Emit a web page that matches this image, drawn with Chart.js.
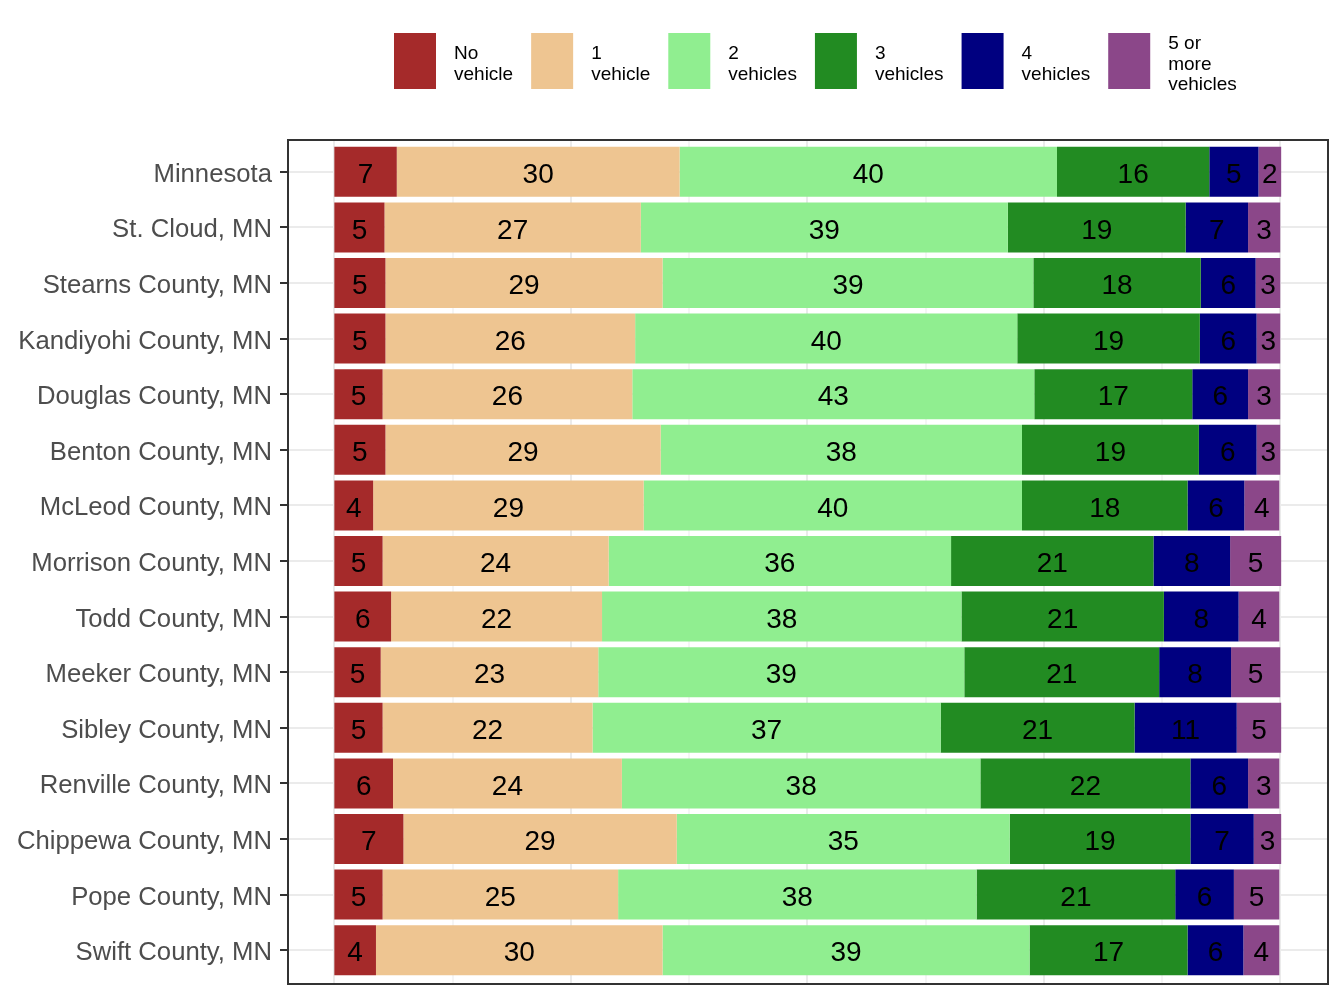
<!DOCTYPE html>
<html>
<head>
<meta charset="utf-8">
<script src="https://cdn.jsdelivr.net/npm/chart.js"></script>
<style>
  body { margin: 0; background: #fff; }
  #wrap { width: 1344px; height: 1008px; }
</style>
</head>
<body>
<div id="wrap"><canvas id="vehChart" width="1344" height="1008"></canvas></div>
<script>
const categories = ['Minnesota', 'St. Cloud, MN', 'Stearns County, MN', 'Kandiyohi County, MN',
  'Douglas County, MN', 'Benton County, MN', 'McLeod County, MN', 'Morrison County, MN',
  'Todd County, MN', 'Meeker County, MN', 'Sibley County, MN', 'Renville County, MN',
  'Chippewa County, MN', 'Pope County, MN', 'Swift County, MN'];

// percent of households
const noVehicle     = [6.6, 5.3, 5.4, 5.4, 5.1, 5.4, 4.1, 5.1, 6.0, 4.9, 5.1, 6.2, 7.3, 5.1, 4.4];
const oneVehicle    = [29.9, 27.1, 29.3, 26.4, 26.4, 29.1, 28.6, 23.9, 22.3, 23.0, 22.2, 24.2, 28.9, 24.9, 30.3];
const twoVehicles   = [39.9, 38.8, 39.2, 40.4, 42.5, 38.2, 40.0, 36.2, 38.0, 38.7, 36.8, 37.9, 35.2, 37.9, 38.8];
const threeVehicles = [16.1, 18.8, 17.7, 19.3, 16.7, 18.7, 17.5, 21.4, 21.4, 20.6, 20.5, 22.2, 19.1, 21.0, 16.7];
const fourVehicles  = [5.2, 6.6, 5.8, 6.0, 5.9, 6.1, 6.0, 8.1, 7.9, 7.6, 10.8, 6.1, 6.7, 6.2, 5.9];
const fivePlus      = [2.4, 3.4, 2.6, 2.5, 3.4, 2.5, 3.7, 5.4, 4.3, 5.2, 4.7, 3.3, 2.9, 4.8, 3.8];

const seriesLabels = [['No', 'vehicle'], ['1', 'vehicle'], ['2', 'vehicles'], ['3', 'vehicles'],
  ['4', 'vehicles'], ['5 or', 'more', 'vehicles']];
const seriesColors = ['#A52A2A', '#EEC591', '#90EE90', '#228B22', '#000080', '#8B4789'];
const xGridValues = [0, 12.5, 25, 37.5, 50, 62.5, 75, 87.5, 100];

const FONT = '"Liberation Sans", Arial, sans-serif';

const frameAndGrid = {
  id: 'frameAndGrid',
  beforeDatasetsDraw(chart) {
    const { ctx, chartArea, scales } = chart;
    ctx.save();
    ctx.strokeStyle = '#EBEBEB';
    xGridValues.forEach(v => {
      const px = Math.round(scales.x.getPixelForValue(v));
      ctx.lineWidth = v % 25 === 0 ? 2 : 1;
      ctx.beginPath();
      ctx.moveTo(px, chartArea.top - 4);
      ctx.lineTo(px, chartArea.bottom + 6);
      ctx.stroke();
    });
    ctx.restore();
  },
  afterDatasetsDraw(chart) {
    const { ctx, chartArea } = chart;
    ctx.save();
    // segment labels
    ctx.font = '28px ' + FONT;
    ctx.fillStyle = '#000';
    ctx.textAlign = 'center';
    ctx.textBaseline = 'middle';
    chart.data.datasets.forEach((ds, i) => {
      chart.getDatasetMeta(i).data.forEach((bar, j) => {
        const p = bar.getProps(['x', 'base', 'y'], true);
        ctx.fillText(String(Math.round(ds.data[j])), (p.x + p.base) / 2, p.y + 3.5);
      });
    });
    // panel border
    ctx.strokeStyle = '#333333';
    ctx.lineWidth = 2;
    ctx.strokeRect(chartArea.left, chartArea.top - 4, chartArea.right - chartArea.left, chartArea.bottom - chartArea.top + 10);
    ctx.restore();
  },
  afterDraw(chart) {
    // legend on top, multi-line labels
    const { ctx } = chart;
    ctx.save();
    ctx.font = '19px ' + FONT;
    ctx.textAlign = 'left';
    ctx.textBaseline = 'alphabetic';
    let x = 394;
    chart.data.datasets.forEach((ds, i) => {
      ctx.fillStyle = ds.backgroundColor;
      ctx.fillRect(x, 33, 42, 56);
      const lines = seriesLabels[i];
      ctx.fillStyle = '#000';
      let w = 0;
      lines.forEach((ln, k) => {
        const y = 61 - (lines.length - 1) * 10.3 + 8.5 + k * 20.6;
        ctx.fillText(ln, x + 60, y);
        w = Math.max(w, ctx.measureText(ln).width);
      });
      x += 60 + w + 18;
    });
    ctx.restore();
  }
};

new Chart(document.getElementById('vehChart'), {
  type: 'bar',
  data: {
    labels: categories,
    datasets: [noVehicle, oneVehicle, twoVehicles, threeVehicles, fourVehicles, fivePlus].map((d, i) => ({
      label: seriesLabels[i].join(' '),
      data: d,
      backgroundColor: seriesColors[i],
      borderWidth: 0,
      barPercentage: 0.9,
      categoryPercentage: 1.0
    }))
  },
  options: {
    indexAxis: 'y',
    responsive: false,
    animation: false,
    layout: { padding: { top: 144, bottom: 30, right: 16, left: 0 } },
    plugins: { legend: { display: false }, tooltip: { enabled: false } },
    scales: {
      x: {
        type: 'linear',
        stacked: true,
        min: -4.9,
        max: 105.05,
        ticks: { display: false },
        grid: { display: false, drawTicks: false },
        border: { display: false },
        afterFit: (scale) => { scale.height = 0; }
      },
      y: {
        stacked: true,
        ticks: { color: '#4D4D4D', padding: 8, labelOffset: 3, font: { size: 25.7, family: FONT } },
        grid: {
          offset: false,
          color: '#EBEBEB',
          lineWidth: 2,
          tickLength: 8,
          tickColor: '#333333',
          tickWidth: 2
        },
        border: { display: false },
        afterFit: (scale) => { scale.width = 288; }
      }
    }
  },
  plugins: [frameAndGrid]
});
</script>
</body>
</html>
